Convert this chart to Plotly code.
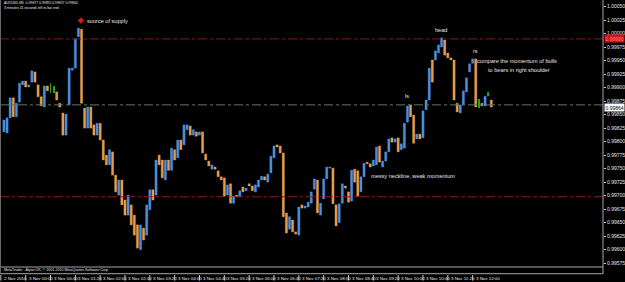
import plotly.graph_objects as go

# ---------------- data (AUDUSD, M5) ----------------
opens = [0.99818, 0.99816, 0.99844, 0.99881, 0.99846, 0.99873, 0.99905, 0.99912, 0.99901, 0.99910,
         0.99929, 0.99905, 0.99883, 0.99864, 0.99903, 0.99899, 0.99897, 0.99892, 0.99871, 0.99853,
         0.99812, 0.99868, 0.99932, 0.99936, 0.99994, 1.00008, 0.99862, 0.99825, 0.99864, 0.99831,
         0.99812, 0.99834, 0.99803, 0.99775, 0.99757, 0.99781, 0.99738, 0.99701, 0.99729, 0.99692,
         0.99664, 0.99683, 0.99664, 0.99646, 0.99600, 0.99640, 0.99627, 0.99674, 0.99711, 0.99701,
         0.99775, 0.99766, 0.99729, 0.99766, 0.99747, 0.99785, 0.99770, 0.99803, 0.99794, 0.99822,
         0.99829, 0.99812, 0.99818, 0.99812, 0.99818, 0.99777, 0.99764, 0.99749, 0.99753, 0.99746,
         0.99735, 0.99733, 0.99701, 0.99722, 0.99686, 0.99701, 0.99698, 0.99716, 0.99709, 0.99722,
         0.99718, 0.99707, 0.99716, 0.99729, 0.99735, 0.99725, 0.99742, 0.99770, 0.99794, 0.99792,
         0.99779, 0.99668, 0.99638, 0.99655, 0.99633, 0.99627, 0.99683, 0.99677, 0.99679, 0.99686,
         0.99712, 0.99729, 0.99664, 0.99694, 0.99731, 0.99751, 0.99751, 0.99683, 0.99650, 0.99686,
         0.99718, 0.99707, 0.99690, 0.99749, 0.99746, 0.99707, 0.99735, 0.99762, 0.99759, 0.99755,
         0.99757, 0.99792, 0.99753, 0.99764, 0.99781, 0.99807, 0.99799, 0.99807, 0.99785, 0.99788,
         0.99836, 0.99868, 0.99849, 0.99805, 0.99814, 0.99807, 0.99859, 0.99877, 0.99951, 0.99951,
         0.99964, 0.99975, 0.99988, 0.99964, 0.99955, 0.99951, 0.99871, 0.99853, 0.99868, 0.99892,
         0.99929, 0.99945, 0.99953, 0.99871, 0.99871, 0.99866, 0.99888, 0.99877]
closes = [0.99840, 0.99844, 0.99881, 0.99846, 0.99871, 0.99908, 0.99912, 0.99901, 0.99905, 0.99931,
          0.99910, 0.99883, 0.99866, 0.99903, 0.99894, 0.99899, 0.99897, 0.99877, 0.99864, 0.99812,
          0.99851, 0.99936, 0.99936, 0.99990, 1.00010, 0.99871, 0.99825, 0.99864, 0.99825, 0.99812,
          0.99834, 0.99803, 0.99766, 0.99757, 0.99785, 0.99738, 0.99707, 0.99729, 0.99683, 0.99664,
          0.99701, 0.99646, 0.99627, 0.99603, 0.99646, 0.99618, 0.99683, 0.99711, 0.99692, 0.99766,
          0.99757, 0.99733, 0.99766, 0.99747, 0.99788, 0.99766, 0.99803, 0.99785, 0.99831, 0.99831,
          0.99812, 0.99822, 0.99810, 0.99818, 0.99779, 0.99766, 0.99755, 0.99757, 0.99749, 0.99735,
          0.99729, 0.99699, 0.99720, 0.99686, 0.99699, 0.99698, 0.99709, 0.99707, 0.99714, 0.99718,
          0.99709, 0.99720, 0.99729, 0.99736, 0.99729, 0.99740, 0.99773, 0.99792, 0.99790, 0.99779,
          0.99661, 0.99631, 0.99661, 0.99633, 0.99629, 0.99679, 0.99677, 0.99681, 0.99688, 0.99707,
          0.99731, 0.99668, 0.99686, 0.99731, 0.99753, 0.99753, 0.99685, 0.99644, 0.99685, 0.99722,
          0.99714, 0.99688, 0.99747, 0.99725, 0.99699, 0.99735, 0.99760, 0.99759, 0.99753, 0.99766,
          0.99790, 0.99762, 0.99764, 0.99781, 0.99805, 0.99799, 0.99805, 0.99781, 0.99796, 0.99834,
          0.99866, 0.99846, 0.99797, 0.99814, 0.99805, 0.99857, 0.99877, 0.99936, 0.99910, 0.99968,
          0.99979, 0.99992, 0.99960, 0.99955, 0.99951, 0.99877, 0.99855, 0.99868, 0.99894, 0.99918,
          0.99944, 0.99953, 0.99864, 0.99871, 0.99866, 0.99884, 0.99888, 0.99864]

# doji candles (open == close) drawn as a thin line from low to high
doji_idx = [15, 16, 153, 156]
doji_high = [0.99908, 0.99903, 0.99879, 0.99892]
doji_low = [0.99890, 0.99890, 0.99862, 0.99884]

# horizontal levels
red_levels = [0.99990, 0.99698]
bid_level = 0.99868
last_price = 0.99864

# axis labels
price_ticks = [1.00050, 1.00025, 1.00000, 0.99975, 0.99950, 0.99925, 0.99900, 0.99875, 0.99850,
               0.99825, 0.99800, 0.99775, 0.99750, 0.99725, 0.99700, 0.99675, 0.99650, 0.99625,
               0.99600, 0.99575]
time_labels = ["2 Nov 2010", "3 Nov 00:00", "3 Nov 00:40", "3 Nov 01:20", "3 Nov 02:00",
               "3 Nov 02:40", "3 Nov 03:20", "3 Nov 04:00", "3 Nov 04:40", "3 Nov 05:20",
               "3 Nov 06:00", "3 Nov 06:40", "3 Nov 07:20", "3 Nov 08:00", "3 Nov 08:40",
               "3 Nov 09:20", "3 Nov 10:00", "3 Nov 10:40", "3 Nov 11:20", "3 Nov 12:00"]
bars_per_label = 8
first_label_bar = -1

# chart notes (text, bar index, price, anchor)
note_text = ["source of supply", "head", "rs", "compare the momentum of bulls",
             "to bears in right shoulder", "ls", "messy neckline, weak momentum"]
note_x = [26.1, 140.9, 151.8, 165.4, 165.9, 129.8, 117.5]
note_y = [1.00024, 1.00007, 0.99967, 0.99949, 0.99932, 0.99884, 0.99737]
note_anchor = ["left", "center", "center", "center", "center", "center", "left"]
marker_x = [24.8]
marker_y = [1.00024]

header1 = "AUDUSD,M5  0.99877 0.99892 0.99857 0.99864"
header2 = "3 minutes 41 seconds left to bar end"
copyright_text = "MetaTrader - Alpari UK, © 2001-2010 MetaQuotes Software Corp."

# ---------------- styling ----------------
BLUE = "#4a8fe0"
ORANGE = "#e89c4c"
GREEN = "#1fa31f"
TXT = "#e6e6e6"
FONT = "Liberation Sans"

idx = list(range(len(opens)))
base, height, colors = [], [], []
for o, c in zip(opens, closes):
    base.append(min(o, c))
    height.append(abs(c - o))
    colors.append(BLUE if c > o else (ORANGE if c < o else "rgba(0,0,0,0)"))

fig = go.Figure()
fig.add_trace(go.Bar(x=idx, y=height, base=base, width=0.7,
                     marker=dict(color=colors, line=dict(width=0.4, color=colors)),
                     hoverinfo="skip", showlegend=False))
fig.add_trace(go.Bar(x=doji_idx, y=[h - l for h, l in zip(doji_high, doji_low)], base=doji_low,
                     width=0.3, marker=dict(color=GREEN, line=dict(width=0)),
                     hoverinfo="skip", showlegend=False))
fig.add_trace(go.Scatter(x=marker_x, y=marker_y, mode="markers",
                         marker=dict(symbol="diamond", size=5, color="#d01818"),
                         hoverinfo="skip", showlegend=False))

shapes = []
for lv in red_levels:
    shapes.append(dict(type="line", xref="paper", yref="y", x0=0, x1=1, y0=lv, y1=lv,
                       line=dict(color="#8a1c1c", width=1, dash="dashdot")))
shapes.append(dict(type="line", xref="paper", yref="y", x0=0, x1=1, y0=bid_level, y1=bid_level,
                   line=dict(color="#5f7a5f", width=1, dash="dashdot")))
# bottom frame lines and right axis line
for yp in [-0.0038, -0.0290]:
    shapes.append(dict(type="line", xref="paper", yref="paper", x0=0, x1=1, y0=yp, y1=yp,
                       line=dict(color="#a8a8a8", width=1)))
shapes.append(dict(type="line", xref="paper", yref="paper", x0=1, x1=1, y0=1, y1=-0.029,
                   line=dict(color="#a8a8a8", width=1)))
shapes.append(dict(type="line", xref="paper", yref="paper", x0=0.0008, x1=0.0008, y0=1, y1=-0.029,
                   line=dict(color="#6a6a6a", width=1)))

tick_pos = [first_label_bar + bars_per_label * k for k in range(len(time_labels))]
annotations = []
for tp, lab in zip(tick_pos, time_labels):
    shapes.append(dict(type="line", xref="x", yref="paper", x0=tp, x1=tp, y0=-0.034, y1=-0.055,
                       line=dict(color="#c8c8c8", width=1)))
    annotations.append(dict(x=tp + 0.35, y=-0.047, xref="x", yref="paper", text=lab,
                            showarrow=False, xanchor="left", yanchor="middle",
                            font=dict(size=4.4, color=TXT, family=FONT)))

for t, xx, yy, an in zip(note_text, note_x, note_y, note_anchor):
    annotations.append(dict(x=xx, y=yy, xref="x", yref="y", text=t, showarrow=False,
                            xanchor=an, yanchor="middle",
                            font=dict(size=5.6, color=TXT, family=FONT)))

annotations.append(dict(x=0.004, y=0.99, xref="paper", yref="paper", text=header1, showarrow=False,
                        xanchor="left", yanchor="middle", font=dict(size=3.4, color=TXT, family=FONT)))
annotations.append(dict(x=0.004, y=0.971, xref="paper", yref="paper", text=header2, showarrow=False,
                        xanchor="left", yanchor="middle", font=dict(size=3.4, color=TXT, family=FONT)))
annotations.append(dict(x=0.003, y=-0.0165, xref="paper", yref="paper", text=copyright_text,
                        showarrow=False, xanchor="left", yanchor="middle",
                        font=dict(size=3.6, color=TXT, family=FONT)))
# price labels at the right edge
annotations.append(dict(x=1.002, y=red_levels[0], xref="paper", yref="y",
                        text=f"{red_levels[0]:.5f}", showarrow=False, xanchor="left",
                        yanchor="middle", bgcolor="#d01414", borderpad=0.5,
                        font=dict(size=5.0, color="#ff8080", family=FONT)))
annotations.append(dict(x=1.002, y=last_price, xref="paper", yref="y",
                        text=f"{last_price:.5f}", showarrow=False, xanchor="left",
                        yanchor="middle", bgcolor="#ffffff", borderpad=0.5,
                        font=dict(size=5.0, color="#000000", family=FONT)))

fig.update_layout(
    width=625, height=282,
    margin=dict(l=0, r=15, t=0, b=16),
    paper_bgcolor="#000000", plot_bgcolor="#000000",
    barmode="overlay",
    shapes=shapes, annotations=annotations,
    showlegend=False,
    xaxis=dict(range=[-1.27, 192.99], showgrid=False, zeroline=False, showticklabels=False,
               ticks="", showline=False, fixedrange=True),
    yaxis=dict(range=[0.995699, 1.00062], side="right", showgrid=False, zeroline=False,
               tickvals=price_ticks, ticktext=[f"{v:.5f}" for v in price_ticks],
               ticks="outside", ticklen=2, tickcolor="#c8c8c8",
               tickfont=dict(size=5.0, color=TXT, family=FONT),
               showline=False, fixedrange=True),
)

fig.write_html("out.html", config={"displayModeBar": False})
